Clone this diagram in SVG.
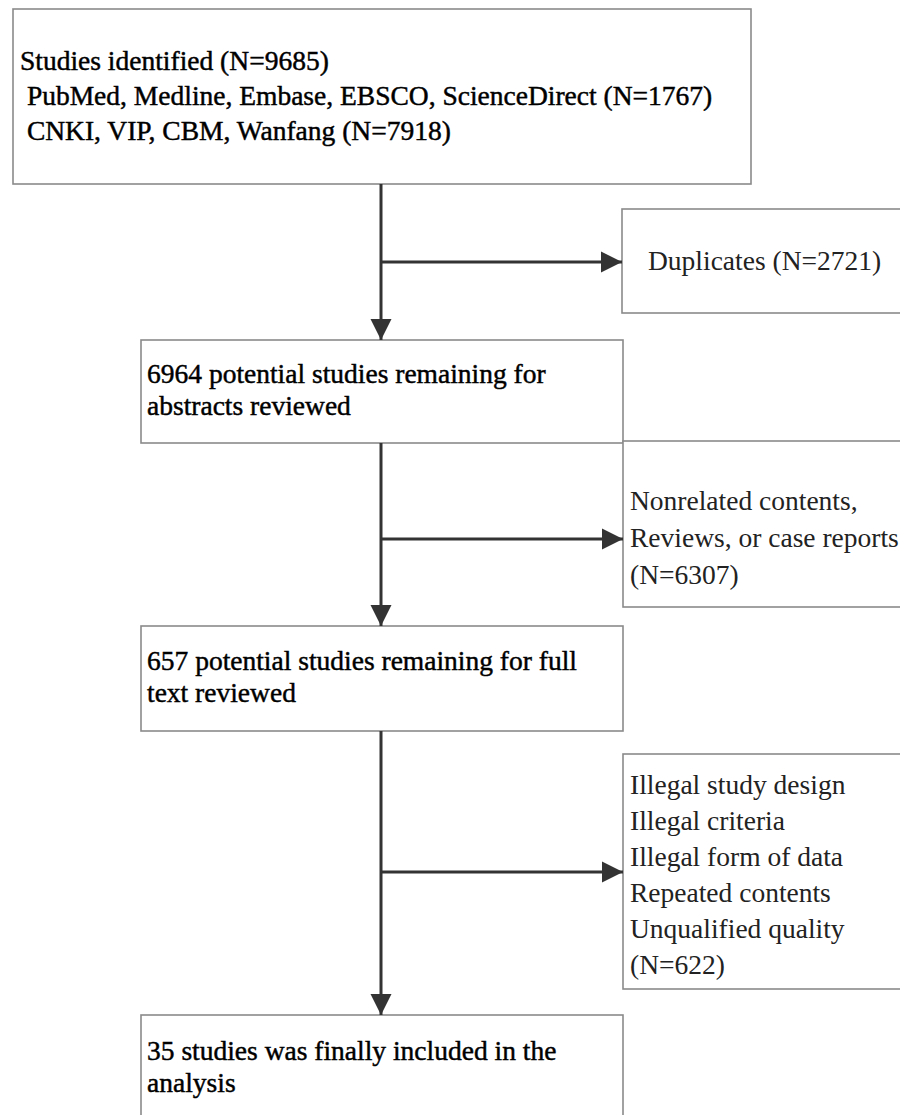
<svg xmlns="http://www.w3.org/2000/svg" width="900" height="1115" viewBox="0 0 900 1115">
<style>
.box{fill:#fff;stroke:#8a8a8a;stroke-width:1.6}
.t{font-family:"Liberation Serif","Times New Roman",serif;font-size:27.5px;fill:#111}
.h{fill:#000;stroke:#000;stroke-width:0.45}
.r{fill:#222}
.c{stroke:#333;stroke-width:3;fill:none}
</style>
<defs>
<marker id="ah" markerUnits="userSpaceOnUse" markerWidth="22" markerHeight="22" viewBox="0 0 22 22" refX="21" refY="11" orient="auto">
<path d="M0,0.5 L21,11 L0,21.5 Z" fill="#333"/>
</marker>
</defs>
<rect width="900" height="1115" fill="#fff"/>
<g id="n1">
<rect class="box" x="13" y="9" width="738" height="175"/>
<text class="t h" x="20" y="70">Studies identified (N=9685)</text>
<text class="t h" x="20" y="105" xml:space="preserve"> PubMed, Medline, Embase, EBSCO, ScienceDirect (N=1767)</text>
<text class="t h" x="20" y="140" xml:space="preserve"> CNKI, VIP, CBM, Wanfang (N=7918)</text>
</g>
<g id="n2">
<rect class="box" x="622" y="209" width="290" height="104"/>
<text class="t r" x="648" y="270">Duplicates (N=2721)</text>
</g>
<g id="n3">
<rect class="box" x="141" y="340" width="482" height="103"/>
<text class="t h" x="147" y="383">6964 potential studies remaining for</text>
<text class="t h" x="147" y="415">abstracts reviewed</text>
</g>
<g id="n4">
<rect class="box" x="623" y="441" width="290" height="166"/>
<text class="t r" x="630" y="510">Nonrelated contents,</text>
<text class="t r" x="630" y="547">Reviews, or case reports</text>
<text class="t r" x="630" y="584">(N=6307)</text>
</g>
<g id="n5">
<rect class="box" x="141" y="626" width="482" height="105"/>
<text class="t h" x="147" y="670">657 potential studies remaining for full</text>
<text class="t h" x="147" y="702">text reviewed</text>
</g>
<g id="n6">
<rect class="box" x="623" y="754" width="290" height="235"/>
<text class="t r" x="630" y="794">Illegal study design</text>
<text class="t r" x="630" y="830">Illegal criteria</text>
<text class="t r" x="630" y="866">Illegal form of data</text>
<text class="t r" x="630" y="902">Repeated contents</text>
<text class="t r" x="630" y="938">Unqualified quality</text>
<text class="t r" x="630" y="974">(N=622)</text>
</g>
<g id="n7">
<rect class="box" x="141" y="1015" width="482" height="110"/>
<text class="t h" x="147" y="1060">35 studies was finally included in the</text>
<text class="t h" x="147" y="1092">analysis</text>
</g>
<g id="connectors">
<path class="c" d="M381,184 V340" marker-end="url(#ah)"/>
<path class="c" d="M381,262 H622" marker-end="url(#ah)"/>
<path class="c" d="M381,443 V626" marker-end="url(#ah)"/>
<path class="c" d="M381,539 H623" marker-end="url(#ah)"/>
<path class="c" d="M381,731 V1015" marker-end="url(#ah)"/>
<path class="c" d="M381,872 H623" marker-end="url(#ah)"/>
</g>
</svg>
